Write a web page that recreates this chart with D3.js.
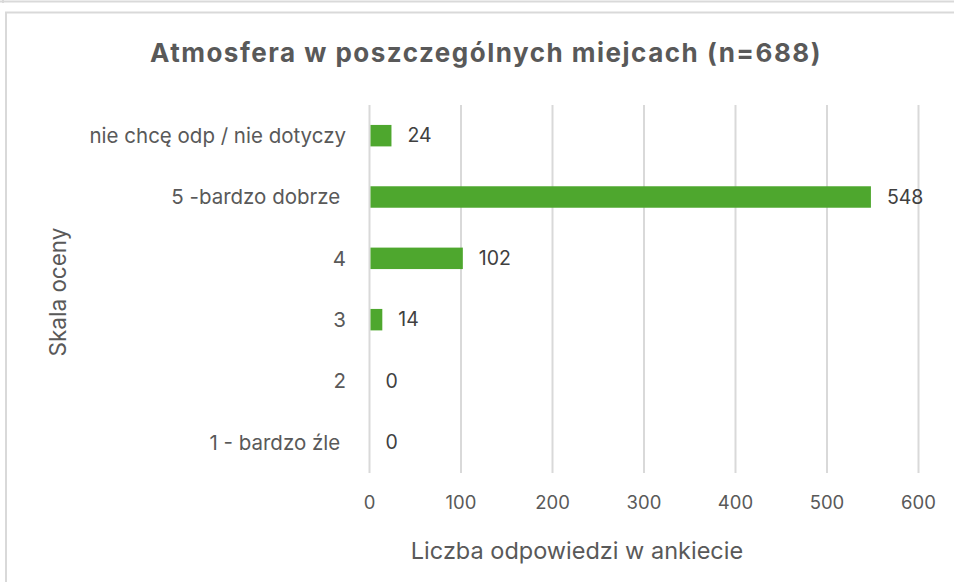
<!DOCTYPE html>
<html><head><meta charset="utf-8">
<script src="https://cdn.jsdelivr.net/npm/d3@7"></script>
<style>body{margin:0;background:#fff;} svg{display:block;} text{white-space:pre;}</style>
</head><body>
<script>
const categories = ["nie chcę odp / nie dotyczy", "5 -bardzo dobrze ", "4", "3", "2", "1 - bardzo źle "];
const values = [24, 548, 102, 14, 0, 0];
const xTicks = [0, 100, 200, 300, 400, 500, 600];
const title = "Atmosfera w poszczególnych miejcach (n=688)";
const xTitle = "Liczba odpowiedzi w ankiecie";
const yTitle = "Skala oceny";

const W = 954, H = 582;
const svg = d3.select("body").append("svg").attr("width", W).attr("height", H);
const font = "Inter, 'Liberation Sans', sans-serif";

// frames
svg.append("line").attr("x1",0).attr("x2",W).attr("y1",1.5).attr("y2",1.5).attr("stroke","#d9d9d9").attr("stroke-width",2);
svg.append("line").attr("x1",3).attr("x2",3).attr("y1",0).attr("y2",3).attr("stroke","#d9d9d9").attr("stroke-width",2);
svg.append("rect").attr("x",6).attr("y",12.5).attr("width",W+20).attr("height",H+20)
  .attr("fill","none").attr("stroke","#d9d9d9").attr("stroke-width",2);

const x = d3.scaleLinear().domain([0,600]).range([369.5,918.5]);
const y = d3.scaleBand().domain(categories).range([105,473]).paddingInner(0.65).paddingOuter(0.325);

// gridlines
svg.append("g").selectAll("line").data(xTicks).join("line")
  .attr("x1",d=>x(d)).attr("x2",d=>x(d)).attr("y1",105).attr("y2",473)
  .attr("stroke","#d9d9d9").attr("stroke-width",2);

// bars
svg.append("g").selectAll("rect").data(values).join("rect")
  .attr("x",x(0)+1).attr("y",(d,i)=>y(categories[i]))
  .attr("width",d=>Math.max(0,x(d)-x(0)-1)).attr("height",y.bandwidth())
  .attr("fill","#4ea72e");

// value labels
svg.append("g").selectAll("text").data(values).join("text")
  .attr("x",d=>x(d)+16).attr("y",(d,i)=>y(categories[i])+y.bandwidth()/2)
  .attr("dy","0.35em").attr("font-family",font).attr("font-size",19.5).attr("fill","#404040")
  .text(d=>d);

// category labels
svg.append("g").selectAll("text").data(categories).join("text")
  .attr("x",346).attr("y",d=>y(d)+y.bandwidth()/2).attr("dy","0.35em")
  .attr("text-anchor","end").attr("font-family",font).attr("font-size",20.5).attr("fill","#595959")
  .text(d=>d);

// x tick labels
svg.append("g").selectAll("text").data(xTicks).join("text")
  .attr("x",d=>x(d)).attr("y",503).attr("dy","0.35em").attr("text-anchor","middle")
  .attr("font-family",font).attr("font-size",18.5).attr("fill","#595959").text(d=>d);

// titles
svg.append("text").attr("x",486).attr("y",53).attr("dy","0.35em").attr("text-anchor","middle")
  .attr("font-family",font).attr("font-size",26).attr("font-weight","bold").attr("letter-spacing",1.5)
  .attr("fill","#595959").text(title);
svg.append("text").attr("x",577).attr("y",551).attr("dy","0.35em").attr("text-anchor","middle")
  .attr("font-family",font).attr("font-size",23.5).attr("fill","#595959").text(xTitle);
svg.append("text").attr("transform","translate(58,292) rotate(-90)").attr("dy","0.35em").attr("text-anchor","middle")
  .attr("font-family",font).attr("font-size",22.5).attr("fill","#595959").text(yTitle);
</script>
</body></html>
